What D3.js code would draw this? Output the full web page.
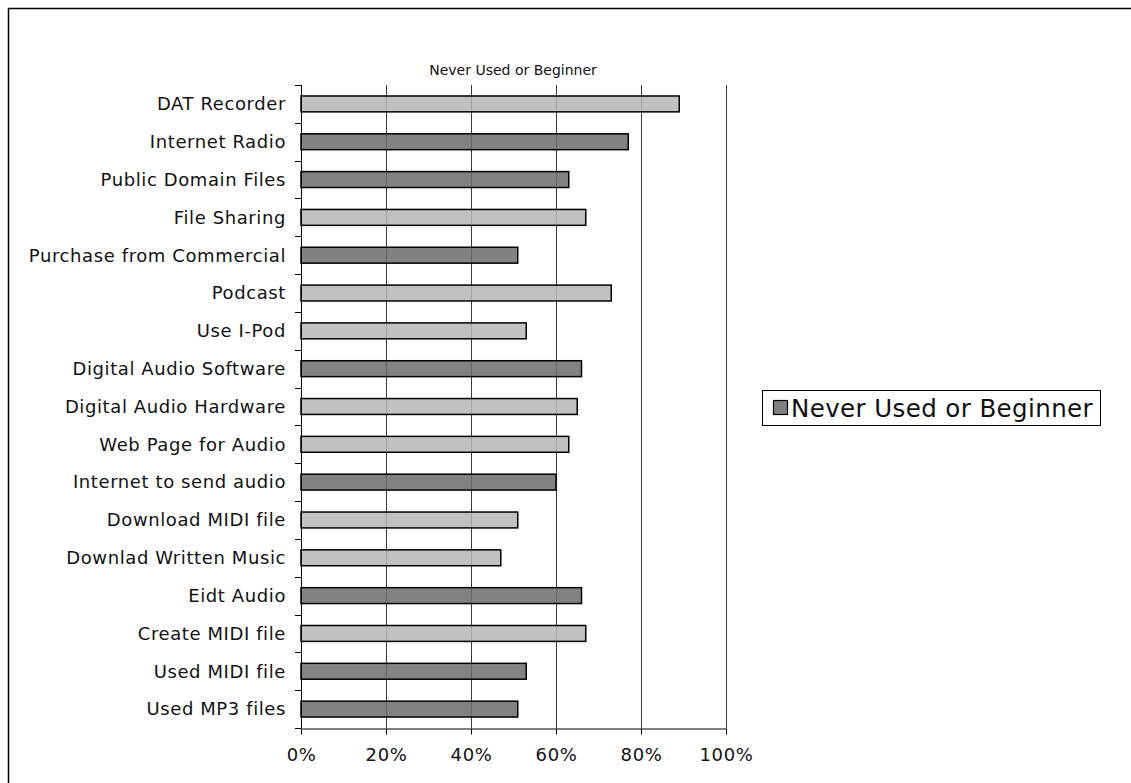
<!DOCTYPE html>
<html><head><meta charset="utf-8">
<script src="https://cdn.jsdelivr.net/npm/d3@7"></script>
<style>
html,body{margin:0;padding:0;background:#fff;}
svg{display:block;font-family:"DejaVu Sans",Verdana,sans-serif;}
</style></head>
<body><svg id="chart" width="1131" height="783"></svg>
<script>
const categories = ["DAT Recorder","Internet Radio","Public Domain Files","File Sharing","Purchase from Commercial","Podcast","Use I-Pod","Digital Audio Software","Digital Audio Hardware","Web Page for Audio","Internet to send audio","Download MIDI file","Downlad Written Music","Eidt Audio","Create MIDI file","Used MIDI file","Used MP3 files"];
const values = [0.89,0.77,0.63,0.67,0.51,0.73,0.53,0.66,0.65,0.63,0.60,0.51,0.47,0.66,0.67,0.53,0.51];
const shadeGroup = ["light","dark","dark","light","dark","light","light","dark","light","light","dark","light","light","dark","light","dark","dark"];
const xTicks = [0,0.2,0.4,0.6,0.8,1.0];
const seriesName = "Never Used or Beginner";
const chartTitle = "Never Used or Beginner";

const svg = d3.select("#chart");
const W = 1131, H = 783;
const m = {left:301, right:726, top:85, bottom:728};

// outer border
svg.append("rect").attr("x",8.5).attr("y",8.5).attr("width",W+20).attr("height",H+20)
  .attr("fill","#fff").attr("stroke","#000").attr("stroke-width",1.5);

const x = d3.scaleLinear().domain([0,1]).range([m.left,m.right]);
const y = d3.scaleBand().domain(categories).range([m.top,m.bottom]).paddingInner(0.58).paddingOuter(0.29);
const yEdge = d3.scaleLinear().domain([0,categories.length]).range([m.top,m.bottom]);
const color = d3.scaleOrdinal().domain(["light","dark"]).range(["#b6b6b6","#6c6c6c"]);

// title
svg.append("text").attr("x",513).attr("y",75).attr("text-anchor","middle")
  .attr("font-size",14).attr("fill","#111").text(chartTitle);

// gridlines
svg.append("g").selectAll("line").data(xTicks.slice(1)).join("line")
  .attr("x1",d=>Math.round(x(d))+0.5).attr("x2",d=>Math.round(x(d))+0.5)
  .attr("y1",m.top).attr("y2",m.bottom)
  .attr("stroke","#3c3c3c").attr("stroke-width",1);

// bars
svg.append("g").selectAll("rect").data(categories).join("rect")
  .attr("x",x(0)).attr("y",d=>y(d))
  .attr("width",(d,i)=>x(values[i])-x(0)).attr("height",y.bandwidth())
  .attr("fill",(d,i)=>color(shadeGroup[i])).attr("fill-opacity",0.85)
  .attr("stroke","#000").attr("stroke-width",1.5);

// y axis
const yAxisG = svg.append("g");
yAxisG.append("line").attr("x1",m.left+0.5).attr("x2",m.left+0.5).attr("y1",m.top).attr("y2",m.bottom).attr("stroke","#000");
yAxisG.selectAll("line.t").data(d3.range(categories.length+1)).join("line").attr("class","t")
  .attr("x1",m.left-6).attr("x2",m.left).attr("y1",d=>Math.round(yEdge(d))+0.5).attr("y2",d=>Math.round(yEdge(d))+0.5)
  .attr("stroke","#000");
yAxisG.selectAll("text").data(categories).join("text")
  .attr("x",m.left-15).attr("y",d=>y(d)+y.bandwidth()/2).attr("dy","0.35em")
  .attr("text-anchor","end").attr("font-size",18).attr("letter-spacing",0.6).attr("fill","#111").text(d=>d);

// x axis
const xAxis = d3.axisBottom(x).tickValues(xTicks).tickFormat(d3.format(".0%")).tickSize(6).tickSizeOuter(0);
const xg = svg.append("g").attr("transform",`translate(0,${m.bottom+0.5})`).call(xAxis);
xg.select(".domain").attr("stroke","#000");
xg.selectAll(".tick line").attr("stroke","#000");
xg.selectAll(".tick text").attr("font-size",18).attr("letter-spacing",0.6).attr("fill","#111").attr("y",20)
  .attr("font-family","DejaVu Sans, Verdana, sans-serif");

// legend
const lg = svg.append("g");
lg.append("rect").attr("x",762.5).attr("y",390.5).attr("width",338).attr("height",35)
  .attr("fill","#fff").attr("stroke","#000").attr("stroke-width",1);
lg.append("rect").attr("x",773.5).attr("y",400.5).attr("width",14).attr("height",14)
  .attr("fill","#808080").attr("stroke","#000").attr("stroke-width",1.2);
lg.append("text").attr("x",791).attr("y",408).attr("dy","0.35em")
  .attr("font-size",24.5).attr("letter-spacing",0.4).attr("fill","#111").text(seriesName);
</script></body></html>
